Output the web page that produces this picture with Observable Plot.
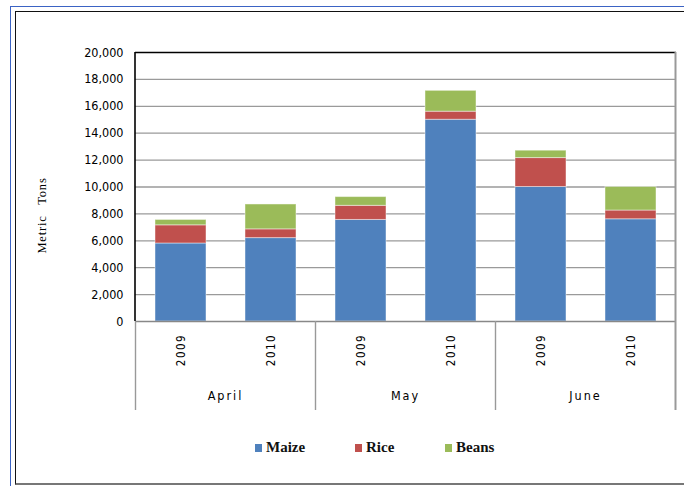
<!DOCTYPE html>
<html><head><meta charset="utf-8">
<script src="https://cdn.jsdelivr.net/npm/d3@7"></script>
<script src="https://cdn.jsdelivr.net/npm/@observablehq/plot@0.6"></script>
<style>
html,body{margin:0;padding:0;background:#fff;}
#wrap{position:relative;width:684px;height:486px;overflow:hidden;}
.b1{position:absolute;left:10px;top:6px;width:800px;height:600px;border-top:1px solid #3b63c4;border-left:1px solid #3b63c4;}
.b2{position:absolute;left:15px;top:11px;width:800px;height:471px;border-top:1.5px solid #111;border-left:1.5px solid #111;border-bottom:2px solid #777;}
#chart{position:absolute;left:0;top:0;}
#chart svg text{font-stretch:condensed;}
.leg{position:absolute;top:439px;font:bold 15px "Liberation Serif","Times New Roman",serif;color:#111;white-space:nowrap;}
.leg i{display:inline-block;width:7px;height:8px;margin-right:4px;vertical-align:0px;}
</style>
</head><body>
<div id="wrap"><div class="b1"></div><div class="b2"></div><div id="chart"></div><div id="legend"></div></div>
<script>
const months = ["April", "May", "June"];
const years = ["2009", "2010"];
const series = ["Maize", "Rice", "Beans"];
// order: April 2009, April 2010, May 2009, May 2010, June 2009, June 2010
const maize = [5800, 6200, 7550, 15000, 10000, 7600];
const rice  = [1350,  650, 1050,   600,  2150,  650];
const beans = [ 400, 1850,  650,  1550,   550, 1750];
const colors = ["#4F81BD", "#C0504D", "#9BBB59"];
const yTicks = [0, 2000, 4000, 6000, 8000, 10000, 12000, 14000, 16000, 18000, 20000];

const NARROW = '"DejaVu Sans Condensed","DejaVu Sans",sans-serif';
const values = [maize, rice, beans];
const keys = [];
const data = [];
months.forEach((m, i) => years.forEach((yr, j) => {
  const k = m + " " + yr; keys.push(k);
  series.forEach((s, si) => data.push({key: k, month: m, year: yr, series: s, value: values[si][i * 2 + j]}));
}));

const plot = Plot.plot({
  width: 684, height: 486,
  marginLeft: 135, marginRight: 8, marginTop: 52, marginBottom: 165,
  style: {fontFamily: NARROW, fontSize: "12.5px", color: "#000", background: "transparent", overflow: "visible"},
  x: {domain: keys, paddingInner: 0.43, paddingOuter: 0.215, axis: null},
  y: {domain: [0, 20000], ticks: yTicks, tickFormat: d3.format(","), tickSize: 0, tickPadding: 12, label: null},
  color: {domain: series, range: colors},
  marks: [
    Plot.ruleY(yTicks.slice(1, -1), {stroke: "#9a9a9a", strokeWidth: 1.3}),
    Plot.barY(data, {x: "key", y: "value", fill: "series", stroke: "#fff", strokeOpacity: 0.45, strokeWidth: 1}),
    Plot.ruleY([0], {stroke: "#888", strokeWidth: 1.3}),
    Plot.ruleY([20000], {stroke: "#000", strokeWidth: 1.5})
  ]
});
document.getElementById("chart").appendChild(plot);

const svg = d3.select(plot);
const xs = plot.scale("x"), ys = plot.scale("y");
const r = xs.range, n = keys.length;
const step = xs.step || (r[1] - r[0]) / (n - 0.43 + 2 * 0.215);
const bw = xs.bandwidth || step * (1 - 0.43);
const xpos = k => xs.apply(k);
const y0 = ys.apply(0), yTop = ys.apply(20000);
const g = svg.append("g");
// left axis line
g.append("line").attr("x1", r[0]).attr("x2", r[0]).attr("y1", yTop).attr("y2", y0).attr("stroke", "#000").attr("stroke-width", 1.6);
// separators
const bounds = months.map(m => xpos(m + " " + years[0]) - (step - bw) / 2);
bounds.push(xpos(months[months.length - 1] + " " + years[years.length - 1]) + bw + (step - bw) / 2);
bounds.forEach((b, i) => {
  g.append("line").attr("x1", b).attr("x2", b).attr("y1", i === bounds.length - 1 ? yTop : y0).attr("y2", y0 + 89)
    .attr("stroke", "#999").attr("stroke-width", i === bounds.length - 1 ? 2 : 1.4);
});
// year labels
keys.forEach((k, i) => {
  const cx = xpos(k) + bw / 2;
  g.append("text").attr("transform", `translate(${cx + 0.5},${y0 + 29}) rotate(-90)`)
    .attr("text-anchor", "middle").attr("dy", "0.35em").attr("font-size", 11.5).attr("letter-spacing", "1.5px")
    .attr("fill", "#000").text(data.find(d => d.key === k).year);
});
// month labels
months.forEach((m, i) => {
  g.append("text").attr("x", (bounds[i] + bounds[i + 1]) / 2).attr("y", y0 + 75)
    .attr("text-anchor", "middle").attr("dy", "0.35em").attr("font-size", 12.5).attr("letter-spacing", "2px")
    .attr("fill", "#000").text(m);
});
// y axis title
g.append("text").attr("transform", `translate(42,${(y0 + yTop) / 2 + 29}) rotate(-90)`)
  .attr("text-anchor", "middle").attr("dy", "0.35em")
  .attr("font-family", '"Liberation Serif","Times New Roman",serif').attr("font-size", 12.5)
  .attr("font-stretch", "normal").style("font-stretch", "normal")
  .attr("letter-spacing", "0.8px").attr("word-spacing", "7px").attr("fill", "#000").text("Metric Tons");

// legend
const legendX = [255, 355, 445];
const legend = document.getElementById("legend");
series.forEach((s, i) => {
  const el = document.createElement("div");
  el.className = "leg"; el.style.left = legendX[i] + "px";
  el.innerHTML = `<i style="background:${colors[i]}"></i>${s}`;
  legend.appendChild(el);
});
</script>
</body></html>
